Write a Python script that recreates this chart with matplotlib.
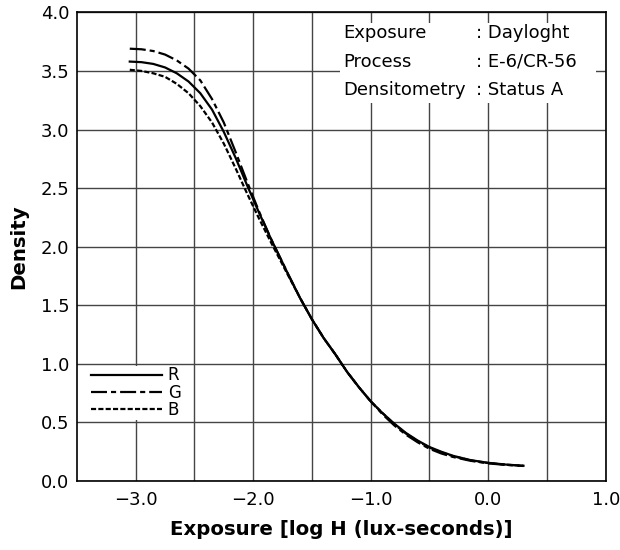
import numpy as np
import matplotlib
matplotlib.use('Agg')
import matplotlib.pyplot as plt
from matplotlib.patches import Rectangle

plt.rcParams['font.family'] = ['DejaVu Sans']

# log exposure values
log_h = [-3.05, -2.95, -2.85, -2.75, -2.65, -2.55, -2.45, -2.35, -2.25, -2.15,
         -2.05, -1.95, -1.85, -1.7, -1.6, -1.5, -1.4, -1.3, -1.2, -1.1, -1.0,
         -0.9, -0.8, -0.7, -0.6, -0.5, -0.4, -0.3, -0.15, 0.0, 0.15, 0.3]

# density per layer
dens_r = [3.58, 3.575, 3.56, 3.53, 3.48, 3.41, 3.31, 3.17, 2.98, 2.76,
          2.52, 2.29, 2.07, 1.76, 1.56, 1.38, 1.22, 1.08, 0.93, 0.80, 0.68,
          0.58, 0.49, 0.41, 0.345, 0.29, 0.25, 0.215, 0.178, 0.155, 0.14, 0.13]
dens_g = [3.69, 3.685, 3.67, 3.64, 3.59, 3.52, 3.42, 3.26, 3.06, 2.81,
          2.55, 2.30, 2.07, 1.76, 1.56, 1.38, 1.22, 1.08, 0.93, 0.80, 0.68,
          0.57, 0.475, 0.395, 0.33, 0.275, 0.235, 0.205, 0.172, 0.15, 0.137, 0.128]
dens_b = [3.51, 3.50, 3.48, 3.45, 3.39, 3.31, 3.20, 3.06, 2.88, 2.67,
          2.45, 2.24, 2.04, 1.75, 1.56, 1.38, 1.22, 1.08, 0.93, 0.80, 0.68,
          0.58, 0.485, 0.405, 0.34, 0.285, 0.245, 0.212, 0.176, 0.153, 0.139, 0.129]

info_keys = ['Exposure', 'Process', 'Densitometry']
info_vals = ['Dayloght', 'E-6/CR-56', 'Status A']

fig = plt.figure(figsize=(6.2, 5.5), dpi=100)
ax = fig.add_axes([0.124, 0.1255, 0.853, 0.852])

ax.plot(log_h, dens_r, color='black', lw=1.6, ls='-', label='R', zorder=3)
ax.plot(log_h, dens_g, color='black', lw=1.6, ls=(0, (7.2, 1.8, 2.3, 1.8)), label='G', zorder=3)
ax.plot(log_h, dens_b, color='black', lw=1.6, ls=(0, (2.3, 1.0)), label='B', zorder=3)

ax.set_xlim(-3.5, 1.0)
ax.set_ylim(0, 4.0)
ax.set_xticks([-3.0, -2.0, -1.0, 0.0, 1.0])
ax.set_xticks(np.arange(-3.0, 1.0, 0.5), minor=True)
ax.set_yticks(np.arange(0, 4.01, 0.5))
ax.xaxis.set_major_formatter(plt.FuncFormatter(lambda v, p: f'{v:.1f}'.replace('-', '\u2212')))
ax.yaxis.set_major_formatter(plt.FuncFormatter(lambda v, p: f'{v:.1f}'))
ax.tick_params(which='both', length=0, labelsize=13)
ax.tick_params(axis='x', pad=7)
ax.tick_params(axis='y', pad=5.5)
ax.grid(True, which='both', color='#444444', lw=1.0)
ax.set_axisbelow(True)
for s in ax.spines.values():
    s.set_linewidth(1.2)

ax.set_xlabel('Exposure [log H (lux-seconds)]', fontsize=14.2, fontweight='bold', labelpad=8)
ax.set_ylabel('Density', fontsize=14.2, fontweight='bold', labelpad=9)

# white box behind the info text
ax.add_patch(Rectangle((-1.265, 3.23), 2.18, 0.68, facecolor='white',
                       edgecolor='none', zorder=2))
for i, (k, v) in enumerate(zip(info_keys, info_vals)):
    y = 3.779 - i * 0.243
    ax.text(-1.235, y, k, fontsize=13, va='baseline', ha='left', zorder=4)
    ax.text(-0.10, y, ': ' + v, fontsize=13, va='baseline', ha='left', zorder=4)

leg = ax.legend(loc='upper left', bbox_to_anchor=(0.0252, 0.2463), borderaxespad=0,
                fontsize=12, handlelength=4.25, handletextpad=0.35, labelspacing=-0.05,
                borderpad=0.05, frameon=True, fancybox=False, facecolor='white',
                edgecolor='none', framealpha=1.0)

fig.savefig('out.png', dpi=100)
